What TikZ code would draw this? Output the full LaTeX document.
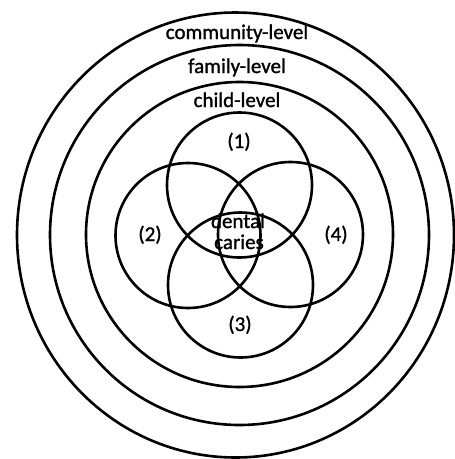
\documentclass[tikz,border=0pt]{standalone}
\usepackage{fontspec}
\setmainfont{Carlito}[FakeBold=1.2]
\begin{document}
\begin{tikzpicture}[x=1pt,y=-1pt,
  ring/.style={draw=black,line width=2.6pt},
  lbl/.style={anchor=base,inner sep=0pt,font=\fontsize{21}{23}\selectfont}]
\useasboundingbox (0,0) rectangle (455,459);
% level rings
\draw[ring] (235.5,235) ellipse [x radius=218.5, y radius=222.5];
\draw[ring] (239.5,235) ellipse [x radius=189.5, y radius=190];
\draw[ring] (239.5,234.5) ellipse [x radius=153.5, y radius=152.5];
% venn circles
\draw[ring] (239.5,185) circle [radius=72.5];
\draw[ring] (188,235.5) circle [radius=72.5];
\draw[ring] (290.5,234.5) circle [radius=72.5];
\draw[ring] (240.5,285) circle [radius=72.5];
% labels
\node[lbl] (comm) at (237,39) {community-level};
\node[lbl] (fam) at (237,73) {family-level};
\node[lbl] (child) at (237,107) {child-level};
\node[lbl] (one) at (239,148) {(1)};
\node[lbl] (two) at (150,241) {(2)};
\node[lbl] (four) at (336,241) {(4)};
\node[lbl] (three) at (240,331) {(3)};
\node[lbl] (dental) at (238,228) {dental};
\node[lbl] (caries) at (239,249) {caries};
\end{tikzpicture}
\end{document}
